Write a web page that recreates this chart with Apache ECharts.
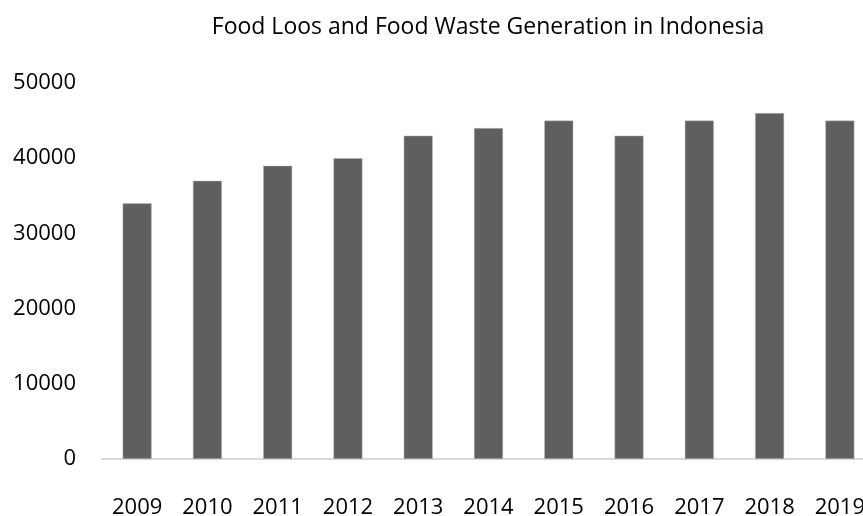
<!DOCTYPE html>
<html><head><meta charset="utf-8">
<script src="https://cdn.jsdelivr.net/npm/echarts@6/dist/echarts.min.js"></script>
<style>html,body{margin:0;padding:0;background:#fff}#c{width:863px;height:516px}</style>
</head><body><div id="c"></div>
<script>
const categories = ['2009','2010','2011','2012','2013','2014','2015','2016','2017','2018','2019'];
const values = [34000,37000,39000,40000,43000,44000,45000,43000,45000,46000,45000];
const titleText = 'Food Loos and Food Waste Generation in Indonesia';
const yTicks = {min:0, max:50000, interval:10000};

const chart = echarts.init(document.getElementById('c'));
chart.setOption({
  animation:false,
  title:{text:titleText, left:483, top:11, textAlign:'center',
    textStyle:{fontFamily:'Open Sans', fontSize:23, fontWeight:'normal', color:'#000'}},
  grid:{left:102, right:-12, top:83, bottom:57, containLabel:false, outerBoundsMode:'none'},
  xAxis:{type:'category', data:categories,
    axisLine:{lineStyle:{color:'#d9d9d9', width:2}},
    axisTick:{show:false},
    axisLabel:{fontFamily:'Open Sans', fontSize:22, color:'#000', margin:38}},
  yAxis:{type:'value', min:yTicks.min, max:yTicks.max, interval:yTicks.interval,
    splitLine:{show:false}, axisLine:{show:false}, axisTick:{show:false},
    axisLabel:{fontFamily:'Open Sans', fontSize:22, color:'#000', margin:26,
      formatter:function(v){return String(v);}}},
  series:[{type:'bar', data:values, barWidth:29,
    itemStyle:{color:'#5f5f5f', borderColor:'#bfbfbf', borderWidth:0.5}}]
});
</script></body></html>
